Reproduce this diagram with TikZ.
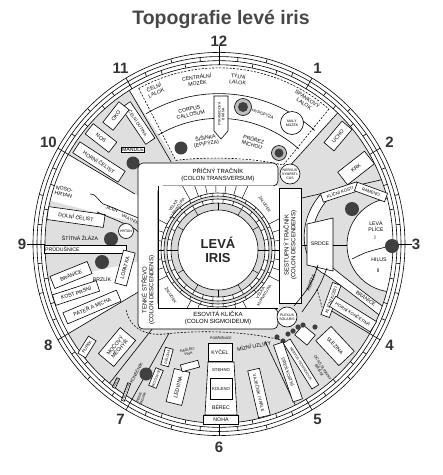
\documentclass[tikz,border=0pt]{standalone}
\usepackage{fontspec}
\setmainfont{Liberation Sans}

\begin{document}
\begin{tikzpicture}[x=1pt, y=-1pt, line width=0.6pt,
  lbl/.style={font=\fontsize{5.2}{5.8}\selectfont, align=center, inner sep=0.6pt},
  smalllbl/.style={font=\fontsize{4.3}{4.8}\selectfont, align=center, inner sep=0.5pt},
  tinylbl/.style={font=\fontsize{3.5}{3.9}\selectfont, align=center, inner sep=0.3pt},
  organ/.style={draw, fill=white, lbl, inner sep=0.8pt},
  smallorgan/.style={organ, smalllbl},
  tinyorgan/.style={organ, tinylbl},
  clocknum/.style={font=\fontsize{15}{15}\selectfont\bfseries, text=black!80},
  colonlbl/.style={font=\fontsize{6}{6.9}\selectfont, align=center},
  cornerlbl/.style={font=\fontsize{4}{4.5}\selectfont, align=center, inner sep=0.3pt},
  spot/.style={fill=black!75},
  irisring/.style={shift={(219,244)}, yscale=1.03},
  zonedash/.style={dash pattern=on 2pt off 1.5pt},
]
\useasboundingbox (0,0) rectangle (443,475);

\node[font=\fontsize{19.5}{20}\selectfont\bfseries, text=black!72] (title) at (221,19) {Topografie levé iris};

% background zones
\begin{scope}[irisring]
  \fill[gray!25] (0,0) circle (174);
  \fill[white] (-121:174) arc[start angle=-121, end angle=-47, radius=174]
    -- (-47:100) .. controls (-70:90) and (-100:86) .. (-118:92) -- cycle;
  \fill[white] (0,0) -- (-166:174) arc[start angle=-166, end angle=-150, radius=174] -- cycle;
  \fill[white] (0,0) -- (150:174) arc[start angle=150, end angle=168, radius=174] -- cycle;
\end{scope}

% lung and diaphragm band
\begin{scope}
  \clip[irisring] (0,0) circle (174);
  \draw[fill=white] (394,245) circle (47);
  \draw[fill=white] (320,195) .. controls (297,222) and (299,262) .. (326,275)
    .. controls (345,288) and (365,304) .. (383,318) -- (389,311)
    .. controls (370,297) and (350,282) .. (333,268)
    .. controls (308,256) and (306,224) .. (328,199) -- cycle;
\end{scope}

% rings, clock numbers, zone lines
\begin{scope}[irisring]
  \foreach \r in {174,178,182,186} \draw (0,0) circle (\r);
  \foreach \a in {-90,-60,...,240} \draw (\a:174) -- (\a:186);
  \foreach \a in {-75,-45,...,255} \draw (\a:182) -- (\a:186);
  \foreach \a in {-96,-66,...,234} \draw (\a:178) -- (\a:182);
  \foreach \a in {-84,-54,...,246} \draw (\a:178) -- (\a:182);
  \foreach \a in {-101,-71,...,229} \draw (\a:174) -- (\a:178);
  \foreach \a in {-79,-49,...,251} \draw (\a:174) -- (\a:178);
  \draw (-90:186) -- (-90:192);
  \draw (0:174) -- (0:193);
  \draw (180:174) -- (180:192);
  \foreach \h in {1,...,12} \node[clocknum] (hr\h) at ({30*\h-90}:197) {\h};

  \draw (-121:174) -- (-121:93);
  \draw[zonedash] (-118:171) -- (-118:92);
  \draw (-47:174) -- (-47:100);
  \draw[zonedash] (-50:171) -- (-50:100);
  \draw (-150:174) -- (-150:97);
  \draw (150:174) -- (150:93);
  \draw (129:174) -- (129:103);
  \draw (120:174) -- (120:100);
  \draw (64:174) -- (64:105);
  \draw (30:174) -- (30:125);
  \coordinate (kk) at (-21:174);

  % brain bands
  \draw[zonedash] (-118:171) arc[start angle=-118, end angle=-50, radius=171];
  \draw (-120:146) arc[start angle=-120, end angle=-49, radius=146];
  \draw (-120:122) arc[start angle=-120, end angle=-49, radius=122];
  \draw[zonedash] (-118:92) .. controls (-100:86) and (-70:90) .. (-50:100);
\end{scope}
\draw (302,198) -- (kk);

% brain
\node[lbl, rotate=23] (cl) at (155,90) {ČELNÍ\\LALOK};
\node[lbl, rotate=8] (cm) at (197,80) {CENTRÁLNÍ\\MOZEK};
\node[lbl, rotate=-7] (tl) at (238,79) {TÝLNÍ\\LALOK};
\node[lbl, rotate=-34] (sl) at (306,101) {SPÁNKOVÝ\\LALOK};
\node[lbl, rotate=13] (cc) at (190,112) {CORPUS\\CALLOSUM};
\draw[fill=white] (214,96) -- (228,96) -- (228,131) -- (221,139) -- (214,131) -- cycle;
\node[tinylbl, rotate=90] (pb) at (221,114) {PYRAMIDOVÁ\\BRÁNA};
\draw[fill=gray!50] (243,107) circle (8.5);
\fill[spot] (243,107) circle (5);
\node[smalllbl, rotate=-22] (hy) at (263,114) {HYPOFÝZA};
\draw[fill=white] (292,123) circle (11.5);
\node[tinylbl] (mm) at (292,123) {MALÝ\\MOZEK};
\fill[spot] (181,148) circle (6.5);
\node[lbl, rotate=10] (si) at (206,141) {ŠIŠINKA\\(EPIFÝZA)};
\node[lbl, rotate=-17] (pm) at (253,142) {PRŮŘEZ\\MÍCHOU};
\draw[fill=gray!50] (279,153) circle (7.5);
\fill[spot] (279,153) circle (4.5);

% upper left
\node[smallorgan, rotate=-56, minimum width=44, minimum height=11] (cd) at (138,123) {ČELNÍ DUTINA};
\node[organ, rotate=52, minimum width=26, minimum height=13] (oko) at (116,116) {OKO};
\node[organ, rotate=-38, minimum width=30, minimum height=13] (nos) at (101,138) {NOS};
\node[organ, rotate=-33, minimum width=54, minimum height=13] (hc) at (99,162) {HORNÍ ČELIST};
\node[organ] (mandle) at (133,150) {MANDLE};
\fill[spot] (133,163) circle (6.5);

% left
\node[lbl, rotate=-12, align=left] (nh) at (64,192) {NOSO-\\HRTAN};
\node[organ, rotate=-8, minimum width=57, minimum height=13] (dc) at (76,217) {DOLNÍ ČELIST};
\draw (90,194) .. controls (98,194) and (98,203) .. (106,205) -- (136,217)
  .. controls (148,222) and (152,232) .. (162,236);
\draw (97,212) -- (130,226) .. controls (142,232) and (146,244) .. (162,247);
\node[smalllbl, rotate=-22] (ji) at (112,209) {JÍCEN};
\node[smalllbl, rotate=-25] (vr) at (130,219) {VRÁTNÍK};
\node[tinylbl, font=\fontsize{4}{4.4}\selectfont, rotate=-55] (py) at (149,229) {(PYLORUS)};
\draw[fill=white] (126,231) circle (7.5);
\node[tinylbl] (hrt) at (126,231) {HRTAN};
\node[lbl] (stz) at (80,238) {ŠTÍTNÁ ŽLÁZA};
\fill[spot] (111,239) circle (7);
\node[organ, anchor=west, minimum height=8, text width=80, align=left] (pru) at (44,249) {PRŮDUŠNICE};
\fill[spot] (102,262) circle (7);
\node[lbl] (brz) at (102,279) {BRZLÍK};
\node[organ, rotate=75, minimum width=34, minimum height=12] (lop) at (125,268) {LOPATKA};
\node[organ, rotate=22, minimum width=40, minimum height=13] (br1) at (71,275) {BRÁNICE};
\node[organ, rotate=18, minimum width=46, minimum height=11] (kp) at (76,293) {KOST PRSNÍ};
\node[organ, rotate=23, minimum width=58, minimum height=12] (pam) at (92,307) {PÁTEŘ A MÍCHA};
\node[organ, rotate=50, minimum width=34, minimum height=20] (moc) at (117,347) {MOČOVÝ\\MĚCHÝŘ};
\node[smallorgan, rotate=58, minimum width=20, minimum height=9] (pupek) at (87,347) {PUPEK};

% colon frame and stomach
\draw[fill=white, rounded corners=5] (278,163) -- (138,163) -- (138,329) -- (278,329)
  -- (278,308) -- (158,308) -- (158,186) -- (278,186) -- cycle;
\fill[white] (158,186) rectangle (279,308);
\draw[fill=white] (279,188) rectangle (301,303);
\begin{scope}
  \clip (158,186) rectangle (279,308);
  \begin{scope}[shift={(218,250)}, line width=0.45pt]
    \foreach \a in {-119,-110,...,-64} \draw (\a:47) -- (\a:110);
    \foreach \a in {-27,-18,...,27} \draw (\a:47) -- (\a:110);
    \foreach \a in {64,73,...,119} \draw (\a:47) -- (\a:110);
    \foreach \a in {153,162,...,207} \draw (\a:47) -- (\a:110);
  \end{scope}
\end{scope}
\draw (158,186) -- (158,308) -- (278,308);
\begin{scope}[shift={(218,250)}]
  \fill[white] (0,0) circle (57);
  \fill[gray!30] (0,0) circle (54);
  \fill[white] (0,0) circle (51);
  \fill[gray!30] (0,0) circle (47);
  \fill[white] (0,0) circle (40);
  \foreach \a in {0,12,...,348} {
    \draw[line width=0.45pt] (\a:54) -- (\a:57);
    \draw[line width=0.45pt] (\a:47) -- (\a:51);
  }
  \foreach \a in {0,30,...,330} \draw[line width=0.45pt] (\a:40) -- (\a:47);
  \foreach \r in {40,47,51,54,57} \draw (0,0) circle (\r);
  \node[font=\fontsize{13}{14}\selectfont\bfseries, align=center, text=black!85] (iris) at (0,0) {LEVÁ\\IRIS};
\end{scope}
\node[cornerlbl, rotate=55] (vk1) at (175,207) {VELKÁ\\KURVATURA};
\node[cornerlbl, rotate=-55] (za1) at (265,204) {ŽALUDEK};
\node[cornerlbl, rotate=-58] (za2) at (171,295) {ŽALUDEK};
\node[cornerlbl, rotate=58] (vk2) at (262,294) {VELKÁ\\KURVATURA};
\node[colonlbl] (pt) at (218,175) {PŘÍČNÝ TRAČNÍK\\(COLON TRANSVERSUM)};
\node[colonlbl] (ek) at (218,318) {ESOVITÁ KLIČKA\\(COLON SIGMOIDEUM)};
\node[colonlbl, rotate=90] (ts) at (148,290) {TENKÉ STŘEVO\\(COLON DESCENDENS)};
\node[colonlbl, rotate=90] (st) at (290,245) {SESTUPNÝ TRAČNÍK\\(COLON DESCENDENS)};
\draw[fill=white] (290,174) circle (10);
\node[tinylbl] (ns) at (290,174) {NERVUS\\SYMPATI-\\CUS};
\draw[fill=white] (287,317) circle (10);
\node[tinylbl] (ps) at (287,317) {PLEXUS\\SOLARIS};

% upper right and heart, lung
\node[organ, rotate=50, minimum width=28, minimum height=13] (ucho) at (338,136) {UCHO};
\node[organ, rotate=38, minimum width=34, minimum height=16] (krk) at (356,168) {KRK};
\node[smallorgan, rotate=18, minimum width=38, minimum height=9] (kk1) at (340,192) {KLÍČNÍ KOSTI};
\node[smallorgan, rotate=-20, minimum width=32, minimum height=9] (ram) at (371,192) {RAMENO};
\fill[spot] (352,209) circle (7);
\draw[fill=white] (307,224) -- (333,218) -- (333,271) -- (307,265) -- cycle;
\node[lbl] (srdce) at (320,244) {SRDCE};
\draw (301,245) -- (307,245);
\draw (333,245) -- (347,245);
\node[lbl] (lp) at (376,226) {LEVÁ\\PLÍCE};
\node[lbl] (l1) at (375,238) {I};
\node[lbl] (hil) at (379,260) {HILUS};
\node[lbl] (l2) at (378,271) {II};
\draw (352,259) .. controls (366,252) .. (386,247);
\fill[spot] (392,246) circle (7);

% lower right
\draw (318,265) .. controls (311,285) .. (294,306);
\draw (327,268) .. controls (319,288) .. (302,312);
\node[lbl, rotate=68] (ao) at (311,283) {AORTA};
\draw[zonedash] (317,289) -- (322,307);
\node[smallorgan, rotate=70, minimum width=34, minimum height=9] (kk2) at (331,300) {KLÍČNÍ KOSTI};
\node[lbl, rotate=-35] (br2) at (366,298) {BRÁNICE};
\node[smallorgan, rotate=-32, minimum width=48, minimum height=12] (hk) at (353,314) {HORNÍ KONČETINA};
\node[draw, fill=white, rotate=-40, minimum width=16, minimum height=13] (blank) at (305,335) {};
\foreach \p in {(277,337),(283,341),(288,334),(293,331),(298,327),(303,325),(315,327)}
  \fill[spot] \p circle (2.6);
\node[organ, rotate=-47, minimum width=34, minimum height=21] (sle) at (335,346) {SLEZINA};
\node[tinylbl, font=\fontsize{3.8}{4.3}\selectfont, rotate=-57] (oc) at (321,369) {OCAS SLINIVKY\\BŘIŠNÍ};
\node[tinyorgan, rotate=-58, minimum width=54, minimum height=8] (ni) at (301,364) {NERVUS ISCHIADICUS};
\node[smallorgan, rotate=-71, minimum width=60, minimum height=10] (dk) at (288,372) {DŘEŇ KOSTNÍ};

% bottom
\draw[zonedash] (126,310) .. controls (130,328) and (145,336) .. (165,334)
  .. controls (200,330) and (245,331) .. (281,340);
\node[tinylbl] (pob) at (221,338) {POBŘIŠNICE};
\node[lbl, rotate=10] (mu) at (254,346) {MÍZNÍ UZLINY};
\node[organ, minimum width=24, minimum height=18] (kyc) at (220,352) {KYČEL};
\draw[fill=white] (208,362) -- (234,362) -- (237,415) -- (205,415) -- cycle;
\node[smalllbl] (steh) at (221,370) {STEHNO};
\node[smallorgan, minimum width=22, minimum height=21] (kol) at (221,389) {KOLENO};
\node[lbl] (ber) at (221,407) {BÉREC};
\node[organ, minimum width=35, minimum height=9] (noha) at (221,420) {NOHA};
\node[smallorgan, rotate=-77, minimum width=48, minimum height=12] (vv) at (259,393) {VAJEČNÍK / VARLE};
\node[organ, rotate=76, minimum width=34, minimum height=16] (led) at (178,387) {LEDVINA};
\node[tinylbl, rotate=12] (nad) at (188,352) {NADLED-\\VINA};
\node[draw, fill=white, rotate=15, minimum width=18, minimum height=7] (nadbox) at (190,366) {};
\node[tinyorgan, rotate=75, minimum width=18, minimum height=8] (del) at (167,357) {DĚLOHA};
\node[tinyorgan, rotate=68, minimum width=18, minimum height=8] (mocv) at (156,378) {MOČOVOD};
\node[smalllbl, rotate=62] (kon) at (136,373) {KONEČNÍK};
\fill[spot] (146,374) circle (6.5);
\node[tinyorgan, rotate=70] (pro) at (126,392) {PROSTATA};
\node[tinylbl, rotate=70] (pen) at (141,398) {PENIS\\VAGINA};
\node[tinyorgan, rotate=65] (anus) at (116,383) {ANUS};

\end{tikzpicture}
\end{document}
